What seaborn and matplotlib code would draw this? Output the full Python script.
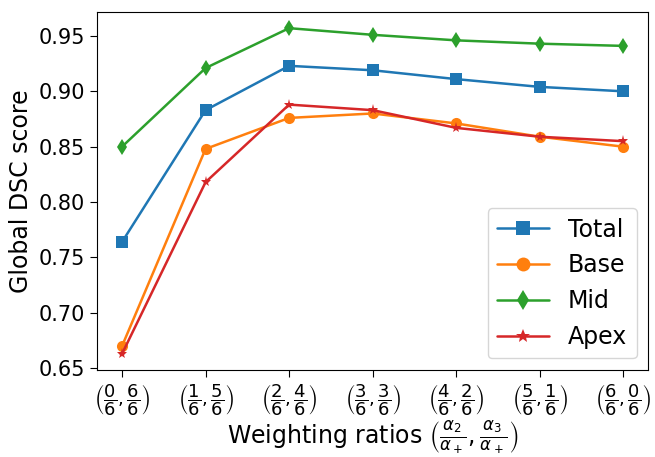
import pandas as pd
import matplotlib
matplotlib.use("Agg")
import matplotlib.pyplot as plt
import seaborn as sns

# values
ratios = [0, 1, 2, 3, 4, 5, 6]
tick_labels = [r'$\left(\dfrac{%d}{6},\dfrac{%d}{6}\right)$' % (i, 6 - i) for i in ratios]
total = [0.764, 0.883, 0.923, 0.919, 0.911, 0.904, 0.900]
base = [0.670, 0.848, 0.876, 0.880, 0.871, 0.859, 0.850]
mid = [0.850, 0.921, 0.957, 0.951, 0.946, 0.943, 0.941]
apex = [0.663, 0.818, 0.888, 0.883, 0.867, 0.859, 0.855]

series = {"Total": total, "Base": base, "Mid": mid, "Apex": apex}
rows = []
for name, vals in series.items():
    for x, v in zip(ratios, vals):
        rows.append({"ratio": x, "score": v, "region": name})
df = pd.DataFrame(rows)

sns.set_style("ticks")
plt.rcParams['font.family'] = ['DejaVu Sans']
plt.rcParams['text.color'] = 'black'
plt.rcParams['axes.labelcolor'] = 'black'

fig, ax = plt.subplots(figsize=(6.55, 4.57), dpi=100)
sns.lineplot(data=df, x="ratio", y="score", hue="region", style="region",
             markers=["s", "o", "d", "*"], dashes=False, palette="tab10",
             markersize=8, linewidth=1.8, markeredgewidth=0, ax=ax)

ax.set_xticks(ratios)
ax.set_xticklabels(tick_labels, fontsize=13)
ax.tick_params(axis='y', labelsize=15)
ax.tick_params(length=5, colors='black')
ax.set_xlabel(r'Weighting ratios $\left(\frac{\alpha_2}{\alpha_+},\frac{\alpha_3}{\alpha_+}\right)$',
              fontsize=17, labelpad=1)
ax.set_ylabel('Global DSC score', fontsize=17)
ax.set_yticks([0.65, 0.70, 0.75, 0.80, 0.85, 0.90, 0.95])
ax.margins(x=0.05, y=0.05)
for s in ax.spines.values():
    s.set_visible(True)
    s.set_color('black')

leg = ax.legend(loc='lower right', fontsize=17, title=None, markerscale=1.25,
                handlelength=2.2)

plt.subplots_adjust(left=0.148, right=0.99, top=0.974, bottom=0.19)
plt.savefig("out.png", dpi=100)
